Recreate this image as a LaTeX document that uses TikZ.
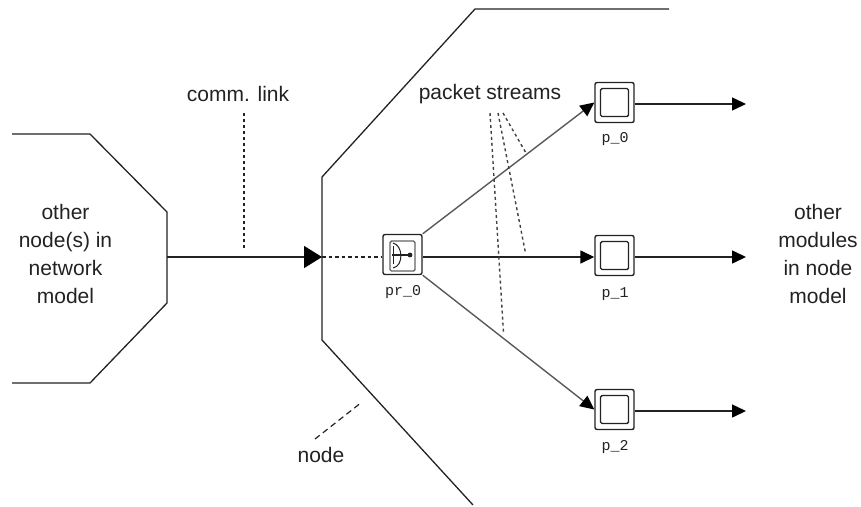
\documentclass[tikz,border=0pt]{standalone}
\usepackage{fontspec}
\setmainfont{Liberation Sans}
\newfontfamily\lblmono{Liberation Mono}
\usetikzlibrary{arrows.meta}
\definecolor{ink}{HTML}{222222}
\tikzset{
  x=1pt,y=-1pt,
  wall/.style={draw=ink,line width=1.3pt},
  stream/.style={draw=ink!75,line width=1.4pt,-{Triangle[length=14pt,width=13pt,color=black]}},
  outline/.style={draw=ink,line width=1.5pt,-{Triangle[length=14pt,width=13pt,color=black]}},
  bigline/.style={draw=ink,line width=1.5pt,-{Triangle[length=18pt,width=22pt,color=black]}},
  dashline/.style={draw=ink,line width=1.2pt,dash pattern=on 3.5pt off 3pt},
  dotline/.style={draw=ink!85,line width=1.4pt,dash pattern=on 3pt off 3pt},
  modbox/.style={draw=ink,line width=1.4pt,rounded corners=2pt,minimum width=39pt,minimum height=40pt,inner sep=0pt},
  innerbox/.style={draw=ink,line width=1.4pt,rounded corners=1.5pt,minimum width=28pt,minimum height=28pt,inner sep=0pt},
  lbl/.style={inner sep=0pt,font=\fontsize{21}{28}\selectfont,text=ink,align=center},
  modlbl/.style={inner sep=0pt,font=\lblmono\fontsize{15}{16}\selectfont,text=ink}
}
\begin{document}
\begin{tikzpicture}
\useasboundingbox (0,0) rectangle (861,506);
% outlines
\draw[wall] (12,134) -- (90,134) -- (167,212) -- (167,303) -- (90,383) -- (12,383);
\draw[wall] (669,9) -- (475,9) -- (322,177) -- (322,340) -- (473,505);
% modules
\node[modbox] (pr) at (402.5,254.5) {};
\node[innerbox,draw=ink!70,minimum width=25pt,minimum height=30pt] (prin) at (402.5,256) {};
\node[modbox] (p0) at (614.5,102.5) {};
\node[innerbox] (p0in) at (614.5,102.5) {};
\node[modbox] (p1) at (614.5,255.5) {};
\node[innerbox] (p1in) at (614.5,255.5) {};
\node[modbox] (p2) at (614.5,409.5) {};
\node[innerbox] (p2in) at (614.5,409.5) {};
% receiver icon
\coordinate (iconL) at (392,255);
\fill[ink] (410,255) circle (2.4pt) coordinate (iconD);
\draw[ink,line width=1.2pt] (iconL) -- (iconD);
\draw[ink,line width=1pt] (393,246) -- (393,264);
\draw[ink,line width=1pt] (393,243) .. controls (403,245) and (404,266) .. (393,268);
% labels
\node[lbl] (txtother) at (65.5,254) {other\\node(s) in\\network\\model};
\node[lbl] (txtlink) at (238,94) {comm. link};
\node[lbl] (txtstreams) at (490,94) {packet streams};
\node[lbl] (txtnode) at (321,455) {node};
\node[lbl] (txtmods) at (818,254) {other\\modules\\in node\\model};
\node[modlbl] at (403,292) {pr\_0};
\node[modlbl] at (615,139) {p\_0};
\node[modlbl] at (615,294) {p\_1};
\node[modlbl] at (615,447) {p\_2};
% free ends
\coordinate (wallhit) at (322,257);
\coordinate (out0) at (746,104);
\coordinate (out1) at (746,257);
\coordinate (out2) at (746,411);
\coordinate (linkfoot) at (244,250);
\coordinate (linktop) at (244,113);
\coordinate (nodeA) at (315,439);
\coordinate (nodeB) at (362,402);
\coordinate (sA) at (490,113);
\coordinate (sB) at (498,113);
\coordinate (sC) at (503,113);
\coordinate (eA) at (503.5,333);
\coordinate (eB) at (525.5,253);
\coordinate (eC) at (526,153);
% connectors
\draw[bigline] (167,257) -- (wallhit);
\draw[dashline] (wallhit) -- (wallhit -| pr.west);
\draw[stream] (pr.north east) -- (p0.west);
\draw[outline] (wallhit -| pr.east) -- (wallhit -| p1.west);
\draw[stream] (pr.south east) -- (p2.west);
\draw[outline] (out0 -| p0.east) -- (out0);
\draw[outline] (out1 -| p1.east) -- (out1);
\draw[outline] (out2 -| p2.east) -- (out2);
\draw[dashline,dash pattern=on 3pt off 3pt] (linktop) -- (linkfoot);
\draw[dashline,dash pattern=on 6pt off 4pt] (nodeA) -- (nodeB);
\draw[dotline] (sA) -- (eA);
\draw[dotline] (sB) -- (eB);
\draw[dotline] (sC) -- (eC);
\end{tikzpicture}
\end{document}
